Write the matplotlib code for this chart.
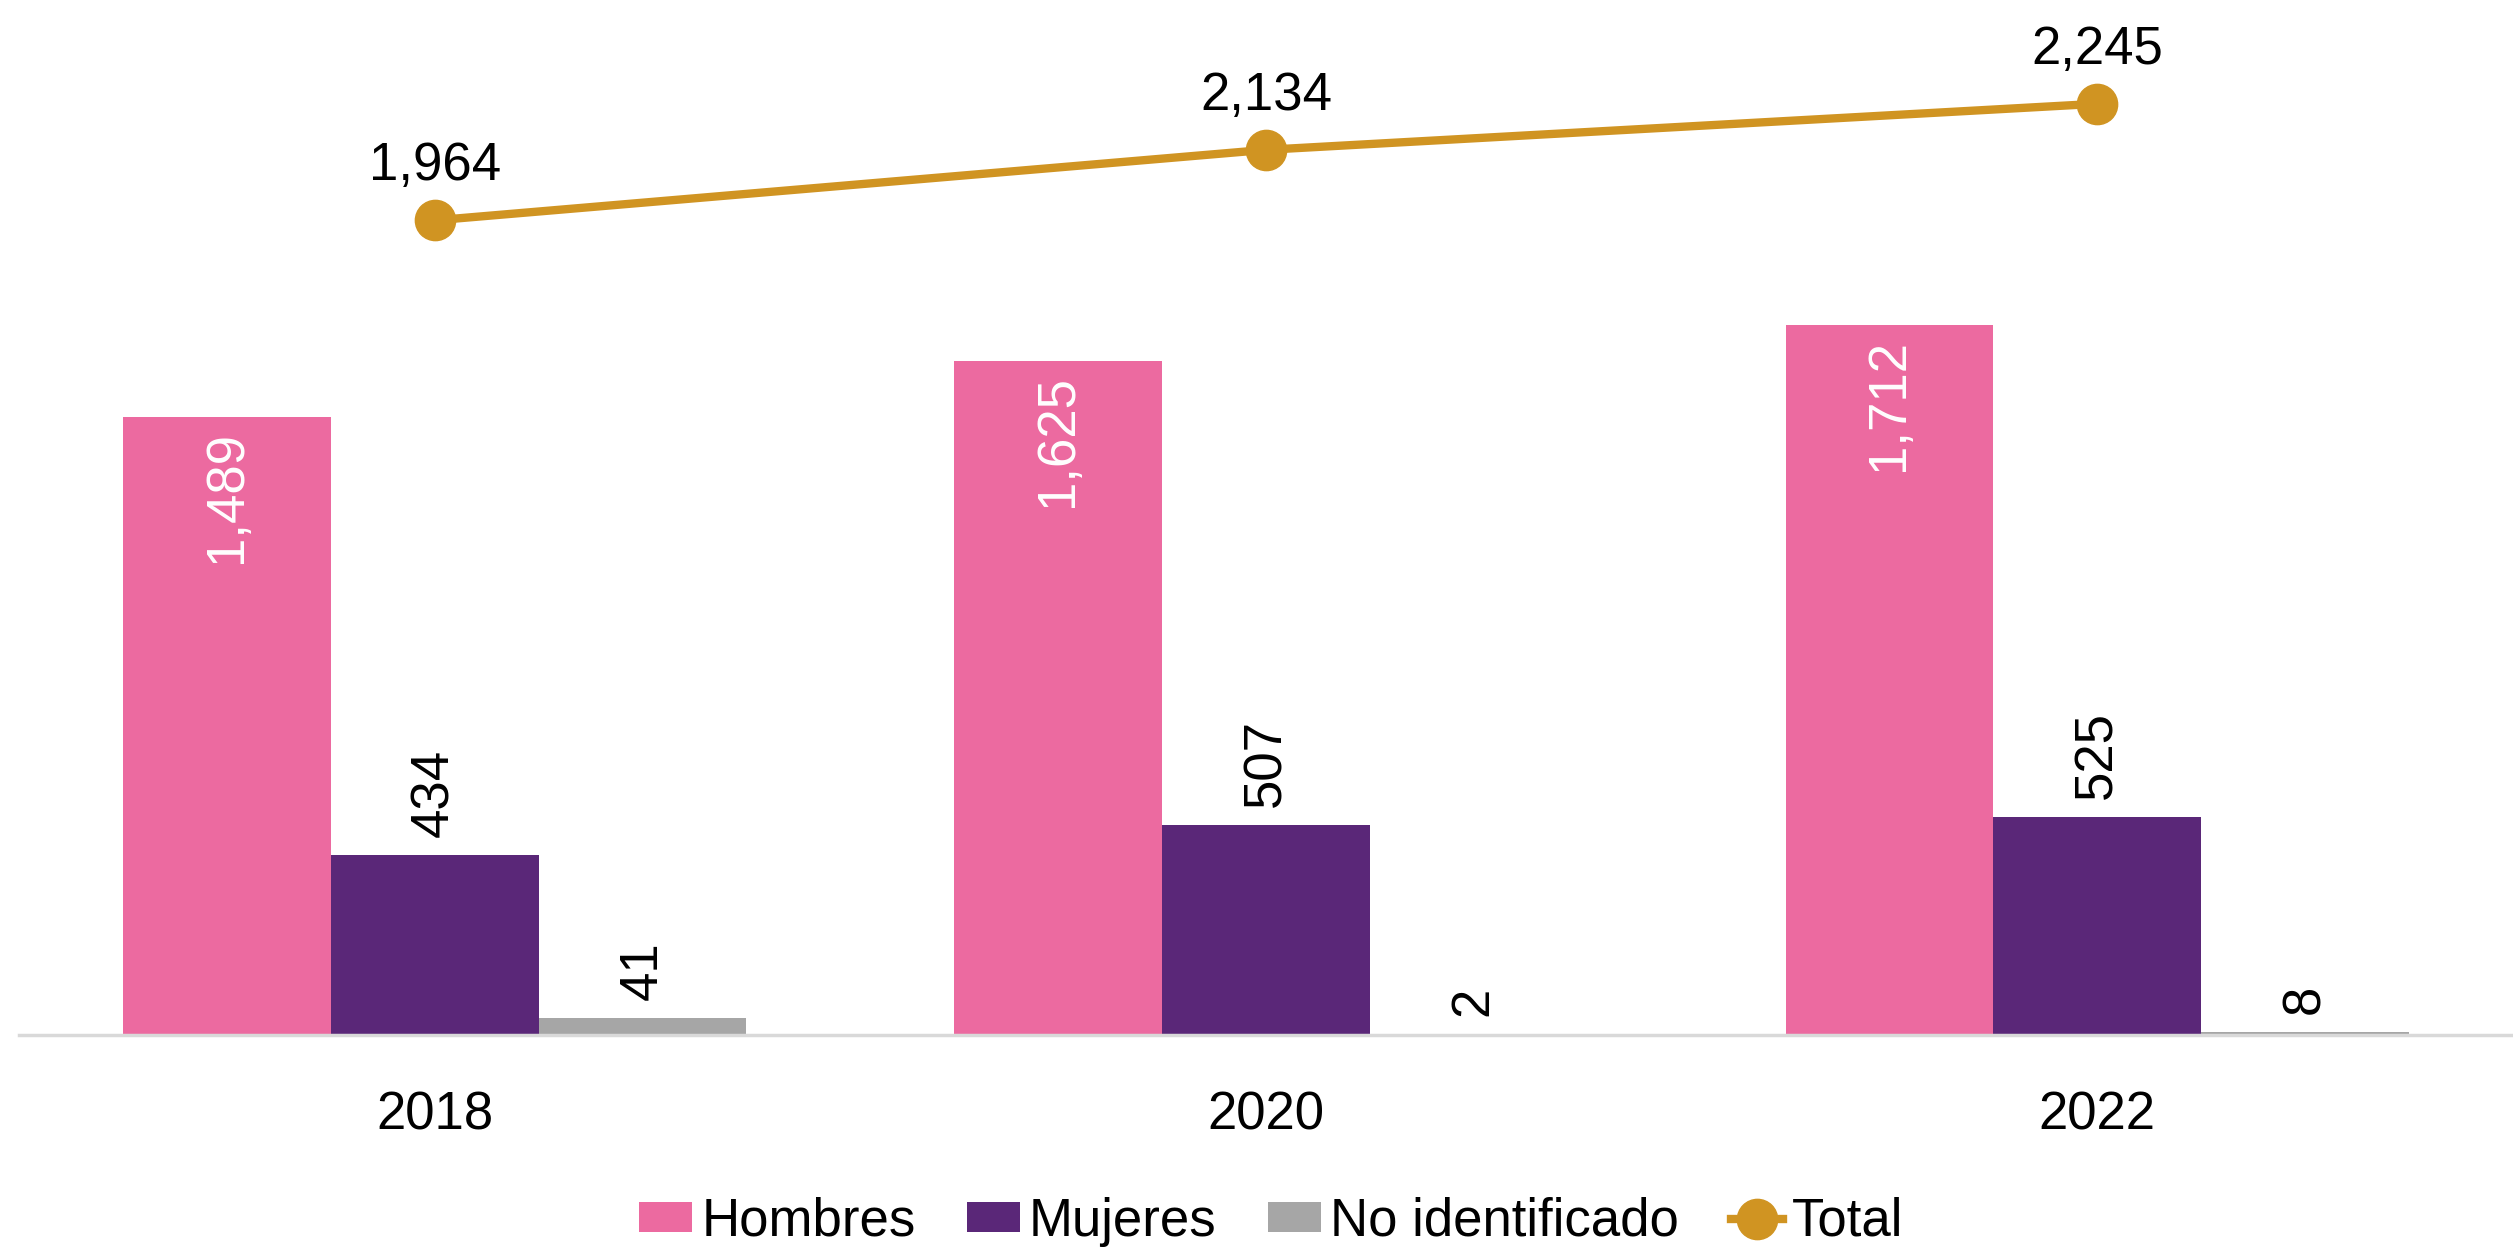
import numpy as np
import matplotlib
matplotlib.use('Agg')
import matplotlib.pyplot as plt

# Data
years = ['2018', '2020', '2022']
hombres = [1489, 1625, 1712]
mujeres = [434, 507, 525]
no_identificado = [41, 2, 8]
total = [1964, 2134, 2245]

plt.rcParams['font.family'] = ['Liberation Sans', 'DejaVu Sans']
FS = 38

fig = plt.figure(figsize=(25.13, 12.59), dpi=100)
ax = fig.add_axes([19 / 2513, (1259 - 1035) / 1259, (2513 - 19) / 2513, 1037 / 1259])

x = np.arange(len(years))
w = 0.25

b1 = ax.bar(x - w, hombres, w, color='#EC6AA0', label='Hombres')
b2 = ax.bar(x, mujeres, w, color='#5A2778', label='Mujeres')
b3 = ax.bar(x + w, no_identificado, w, color='#A6A6A6', label='No identificado')
ln, = ax.plot(x, total, color='#D09422', linewidth=6, marker='o',
              markersize=29, label='Total', zorder=5)

# Labels inside the Hombres bars (white, rotated)
for xi, v in zip(x - w, hombres):
    ax.annotate(f'{v:,}', xy=(xi, v), xytext=(0, -10), textcoords='offset points',
                rotation=90, ha='center', va='top', color='white', fontsize=FS)

# Labels above Mujeres and No identificado bars
for xs, vals in [(x, mujeres), (x + w, no_identificado)]:
    for xi, v in zip(xs, vals):
        ax.annotate(f'{v:,}', xy=(xi, v), xytext=(0, 13), textcoords='offset points',
                    rotation=90, ha='center', va='bottom', color='black', fontsize=FS)

# Labels above the Total line
for xi, v in zip(x, total):
    ax.annotate(f'{v:,}', xy=(xi, v), xytext=(0, 21), textcoords='offset points',
                ha='center', va='bottom', color='black', fontsize=FS)

ax.set_xlim(-0.5, 2.5)
ax.set_ylim(0, 2500)
ax.set_xticks(x)
ax.set_xticklabels(years, fontsize=FS)
ax.tick_params(axis='x', length=0, pad=40)
ax.set_yticks([])

for s in ['top', 'right', 'left']:
    ax.spines[s].set_visible(False)
ax.spines['bottom'].set_color('#D9D9D9')
ax.spines['bottom'].set_linewidth(2.5)

fig.legend(handles=[b1, b2, b3, ln], loc='center', bbox_to_anchor=(0.506, 1 - 1222 / 1259),
           ncol=4, frameon=False, fontsize=FS, handlelength=1.0, handleheight=0.5,
           handletextpad=0.17, columnspacing=0.98, borderaxespad=0)

fig.savefig('out.png', dpi=100, facecolor='white')
